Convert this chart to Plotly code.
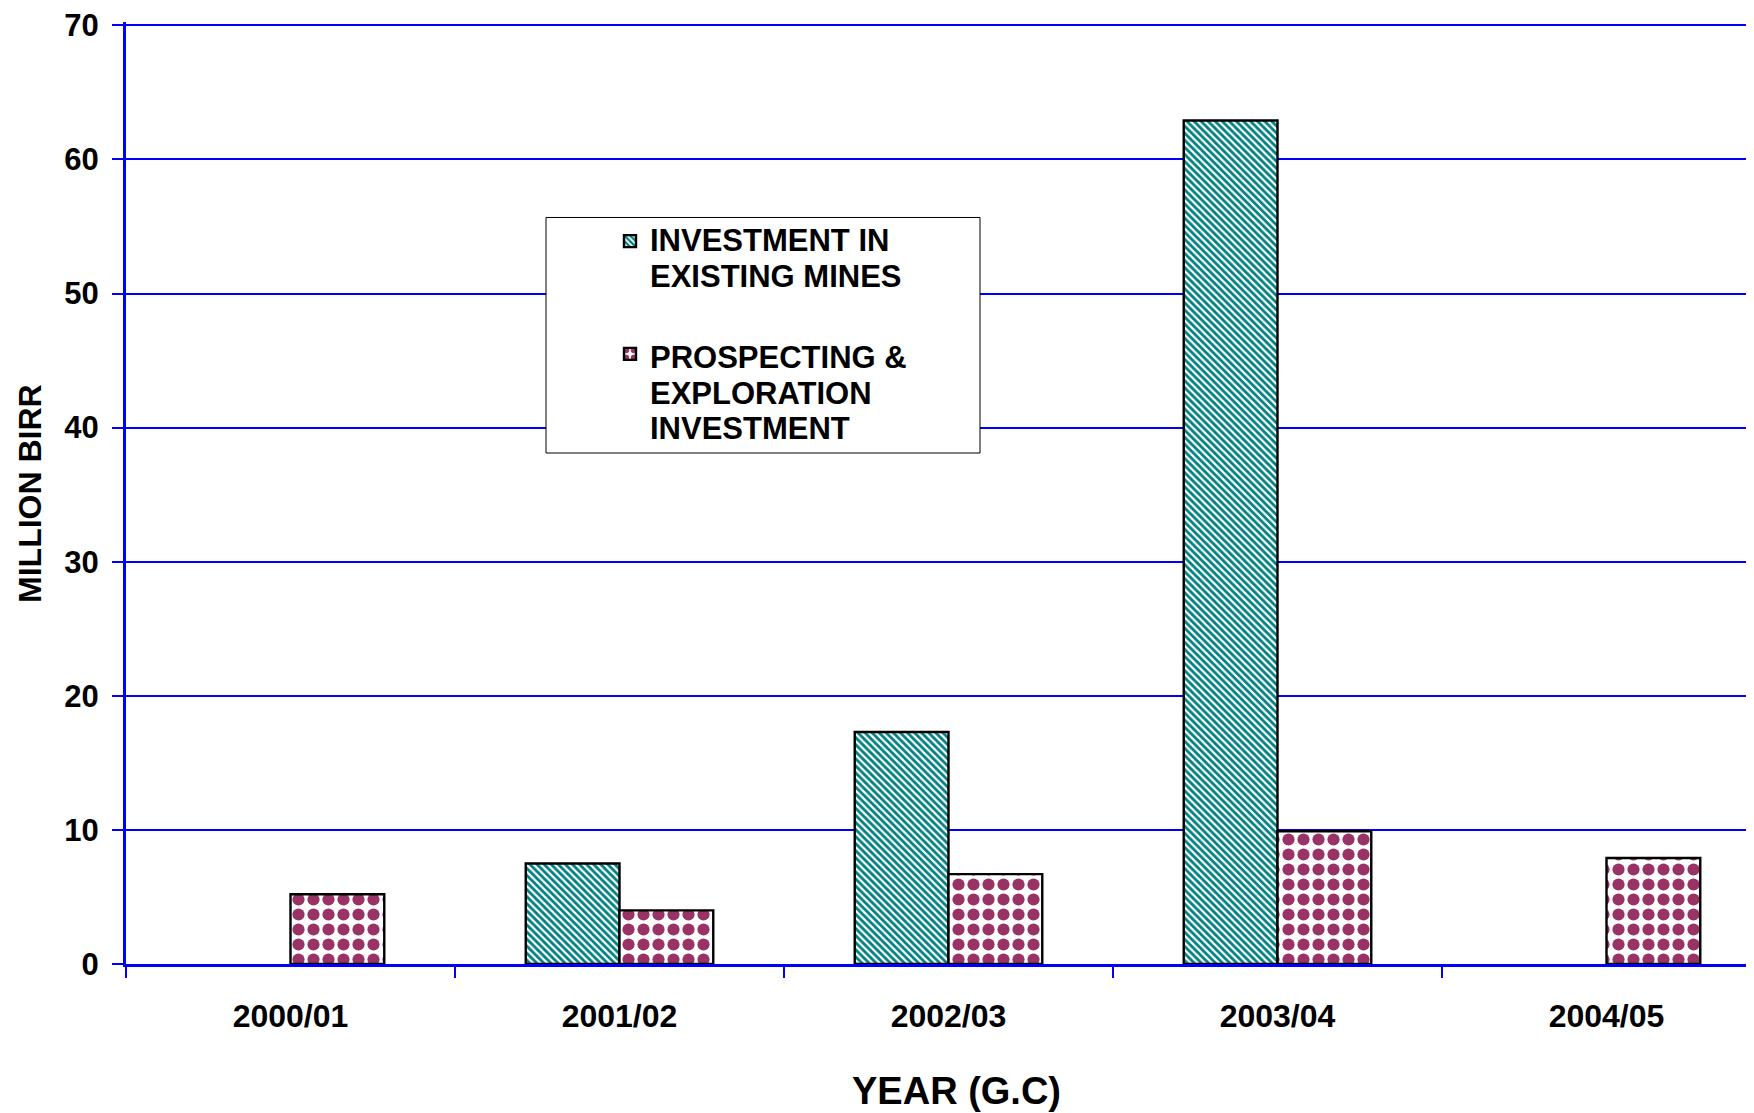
import plotly.graph_objects as go

years = ["2000/01", "2001/02", "2002/03", "2003/04", "2004/05"]
existing_mines = [None, 7.5, 17.3, 62.9, None]
prospecting = [5.2, 4.0, 6.7, 9.9, 7.9]
y_ticks = [0, 10, 20, 30, 40, 50, 60, 70]
legend_lines_1 = ["INVESTMENT IN", "EXISTING MINES"]
legend_lines_2 = ["PROSPECTING &", "EXPLORATION", "INVESTMENT"]

FONT = "Liberation Sans, Arial, sans-serif"
BLUE = "#0000FF"

fig = go.Figure()
fig.add_trace(go.Bar(
    x=years, y=existing_mines,
    name="", legend="legend",
    hovertext=" ".join(legend_lines_1),
    marker=dict(color="white", line=dict(color="black", width=2.4),
                pattern=dict(shape="\\", fgcolor="#008080", bgcolor="white",
                             fgopacity=1, size=5, solidity=0.55)),
))
fig.add_trace(go.Bar(
    x=years, y=prospecting,
    name="", legend="legend2",
    hovertext=" ".join(legend_lines_2),
    marker=dict(color="white", line=dict(color="black", width=2.4),
                pattern=dict(shape=".", fgcolor="#993366", bgcolor="white",
                             fgopacity=1, size=15, solidity=0.52)),
))

# body margin of the page (8px) is compensated by shifting everything
OFF = 8
YMAX = 70.25                      # a hair above 70 so the 70 gridline is drawn
UNIT = (964 - 23.5) / 70.0        # px per unit in the reference
W, H = 1754 - OFF, 1113 - OFF
L, R = 126 - OFF, 0
T = (964 - OFF) - UNIT * YMAX
B = H - (964 - OFF)
pw = W - L - R
ph = H - T - B

def px(x):
    return (x - OFF - L) / pw

def py(y):
    return (H - B - (y - OFF)) / ph

fig.add_shape(type="rect", xref="paper", yref="paper",
              x0=px(546), x1=px(980), y0=py(452), y1=py(216),
              line=dict(color="black", width=1), fillcolor="white", layer="above")

legend_font = dict(family=FONT, size=31, color="black", weight="bold")
for lines, y_first in ((legend_lines_1, 239.5), (legend_lines_2, 356.5)):
    for i, line in enumerate(lines):
        fig.add_annotation(text=line, xref="paper", yref="paper",
                           x=px(648), y=py(y_first + i * 35.5), showarrow=False,
                           xanchor="left", yanchor="middle", font=legend_font)

fig.add_annotation(text="YEAR (G.C)", xref="paper", yref="paper",
                   x=px(956), y=py(1091), showarrow=False,
                   xanchor="center", yanchor="middle",
                   font=dict(family=FONT, size=38, color="black", weight="bold"))
fig.add_annotation(text="MILLION BIRR", xref="paper", yref="paper",
                   x=px(30), y=py(493), showarrow=False, textangle=-90,
                   xanchor="center", yanchor="middle",
                   font=dict(family=FONT, size=32, color="black", weight="bold"))

leg_common = dict(xanchor="left", yanchor="top", bgcolor="rgba(0,0,0,0)",
                  borderwidth=0, font=legend_font)

fig.update_layout(
    width=W, height=H,
    margin=dict(l=L, r=R, t=T, b=B, pad=0),
    paper_bgcolor="white", plot_bgcolor="white",
    barmode="group", bargap=0.43, bargroupgap=0,
    font=dict(family=FONT, size=31, color="black", weight="bold"),
    showlegend=True,
    legend=dict(x=px(610), y=py(213), **leg_common),
    legend2=dict(x=px(610), y=py(326), **leg_common),
    xaxis=dict(type="category", range=[-0.5, -0.5 + pw / 329.0],
               showgrid=False, showline=True, linecolor=BLUE, linewidth=3,
               ticks="outside", ticklen=11, tickwidth=2, tickcolor=BLUE,
               tickson="boundaries", ticklabelstandoff=22,
               tickfont=dict(family=FONT, size=32, color="black", weight="bold"),
               zeroline=False),
    yaxis=dict(range=[0, YMAX], tickvals=y_ticks, ticktext=[str(v) for v in y_ticks],
               showgrid=True, gridcolor=BLUE, gridwidth=2,
               showline=True, linecolor=BLUE, linewidth=3,
               ticks="outside", ticklen=11, tickwidth=2, tickcolor=BLUE,
               ticklabelstandoff=7, ticklabeloverflow="allow",
               tickfont=dict(family=FONT, size=31, color="black", weight="bold"),
               zeroline=False),
)

fig.write_html("out.html")
